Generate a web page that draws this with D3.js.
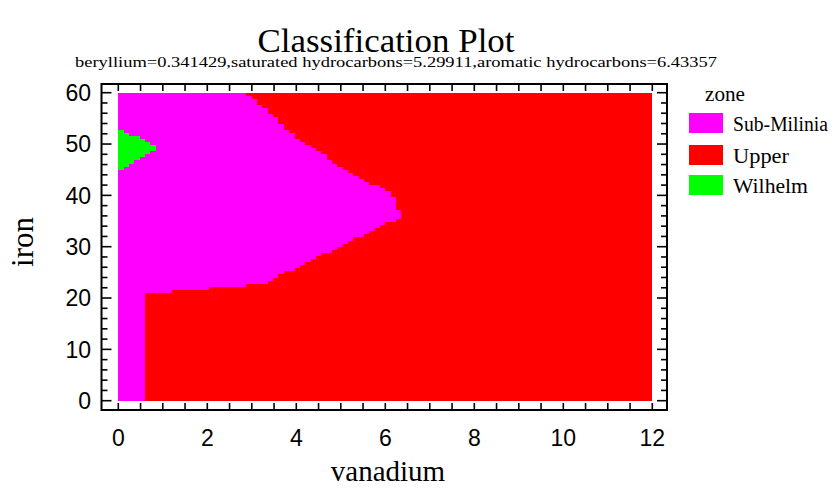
<!DOCTYPE html>
<html><head><meta charset="utf-8">
<script src="https://cdn.jsdelivr.net/npm/d3@7"></script>
<style>body{margin:0;background:#fff;}</style>
</head><body>
<svg id="chart" width="835" height="491"></svg>
<script>
// ---------- data ----------
const titleText = "Classification Plot";
const subtitleText = "beryllium=0.341429,saturated hydrocarbons=5.29911,aromatic hydrocarbons=6.43357";
const xLabelText = "vanadium";
const yLabelText = "iron";
const legendTitle = "zone";
const zones = ["Sub-Milinia", "Upper", "Wilhelm"];
const zoneColors = ["#ff00ff", "#ff0000", "#00ff00"];
const xTickValues = [0, 2, 4, 6, 8, 10, 12];
const yTickValues = [0, 10, 20, 30, 40, 50, 60];
const vanadiumRange = [0, 12];
const ironRange = [0, 60];
// classification grid rows, listed top (iron 60) to bottom (iron 0), each 0.6 iron tall
// vanadium value where Sub-Milinia stops and Upper starts
const subMiliniaEdge = [
  2.88,3.00,3.12,3.12,3.24,3.36,3.36,3.48,3.60,3.60,
  3.72,3.72,3.84,3.96,3.96,4.08,4.20,4.32,4.44,4.56,
  4.68,4.68,4.80,4.92,5.04,5.16,5.28,5.40,5.52,5.64,
  5.88,6.00,6.12,6.12,6.24,6.24,6.24,6.24,6.36,6.36,
  6.36,6.24,6.00,5.88,5.76,5.64,5.52,5.28,5.16,5.04,
  4.92,4.80,4.56,4.44,4.32,4.20,4.08,3.96,3.72,3.60,
  3.48,3.36,2.88,2.04,1.20,0.60,0.60,0.60,0.60,0.60,
  0.60,0.60,0.60,0.60,0.60,0.60,0.60,0.60,0.60,0.60,
  0.60,0.60,0.60,0.60,0.60,0.60,0.60,0.60,0.60,0.60,
  0.60,0.60,0.60,0.60,0.60,0.60,0.60,0.60,0.60,0.60
];
// Wilhelm patch: first row index (from top) and vanadium where it stops
const wilhelmFirstRow = 12;
const wilhelmEdge = [0.12,0.24,0.48,0.60,0.72,0.84,0.84,0.72,0.60,0.48,0.36,0.24,0.12];

// ---------- layout ----------
const svg = d3.select("#chart");
const frame = {left: 101.5, right: 667, top: 84, bottom: 410};
const x = d3.scaleLinear().domain(vanadiumRange).range([118.3, 652.3]);
const y = d3.scaleLinear().domain(ironRange).range([400.7, 92.7]);
const serif = "'Liberation Serif','Times New Roman',serif";
const sans = "'Liberation Sans',Arial,sans-serif";

const nRows = subMiliniaEdge.length;
const rowH = (ironRange[1] - ironRange[0]) / nRows;
const rows = subMiliniaEdge.map((e, k) => ({
  top: ironRange[1] - k * rowH, bottom: ironRange[1] - (k + 1) * rowH, edge: e
}));
const gCells = svg.append("g").attr("shape-rendering", "crispEdges");
function rowRect(sel, x0, x1, r, color) {
  const y0 = Math.round(y(r.top)), y1 = Math.round(y(r.bottom));
  sel.append("rect").attr("x", Math.round(x(x0))).attr("y", y0)
    .attr("width", Math.round(x(x1)) - Math.round(x(x0))).attr("height", y1 - y0)
    .attr("fill", color);
}
rows.forEach(r => {
  rowRect(gCells, vanadiumRange[0], r.edge, r, zoneColors[0]);
  rowRect(gCells, r.edge, vanadiumRange[1], r, zoneColors[1]);
});
wilhelmEdge.forEach((e, i) => {
  rowRect(gCells, vanadiumRange[0], e, rows[wilhelmFirstRow + i], zoneColors[2]);
});

// frame
svg.append("rect").attr("x", frame.left).attr("y", frame.top)
  .attr("width", frame.right - frame.left).attr("height", frame.bottom - frame.top)
  .attr("fill", "none").attr("stroke", "#000").attr("stroke-width", 2);

// ticks
const gT = svg.append("g").attr("stroke", "#000").attr("stroke-width", 1.6);
d3.range(vanadiumRange[0], vanadiumRange[1] + 0.001, 0.5).forEach(v => {
  const px = x(v);
  gT.append("line").attr("x1", px).attr("x2", px).attr("y1", frame.bottom).attr("y2", frame.bottom - 7);
  gT.append("line").attr("x1", px).attr("x2", px).attr("y1", frame.top).attr("y2", frame.top + 7);
});
d3.range(ironRange[0], ironRange[1] + 0.001, 2).forEach(v => {
  const py = y(v);
  const len = (v % 10 === 0) ? 10 : 6;
  gT.append("line").attr("x1", frame.left).attr("x2", frame.left + len).attr("y1", py).attr("y2", py);
  gT.append("line").attr("x1", frame.right).attr("x2", frame.right - len).attr("y1", py).attr("y2", py);
});

// tick labels
svg.append("g").selectAll("text").data(xTickValues).join("text")
  .attr("x", d => x(d)).attr("y", 446).attr("text-anchor", "middle")
  .attr("font-family", sans).attr("font-size", 23).text(d => d);
svg.append("g").selectAll("text").data(yTickValues).join("text")
  .attr("x", 91).attr("y", d => y(d)).attr("dy", "0.36em").attr("text-anchor", "end")
  .attr("font-family", sans).attr("font-size", 23).text(d => d);

// titles
svg.append("text").attr("x", 386).attr("y", 52).attr("text-anchor", "middle")
  .attr("font-family", serif).attr("font-size", 33)
  .attr("textLength", 257).attr("lengthAdjust", "spacingAndGlyphs").text(titleText);
svg.append("text").attr("x", 396).attr("y", 67).attr("text-anchor", "middle")
  .attr("font-family", serif).attr("font-size", 15)
  .attr("textLength", 642).attr("lengthAdjust", "spacingAndGlyphs").text(subtitleText);
svg.append("text").attr("x", 388).attr("y", 481).attr("text-anchor", "middle")
  .attr("font-family", serif).attr("font-size", 29).text(xLabelText);
svg.append("text").attr("transform", "translate(33,242) rotate(-90)").attr("text-anchor", "middle")
  .attr("font-family", serif).attr("font-size", 31).text(yLabelText);

// legend
svg.append("text").attr("x", 705).attr("y", 101).attr("font-family", serif).attr("font-size", 21)
  .attr("textLength", 40).attr("lengthAdjust", "spacingAndGlyphs").text(legendTitle);
const legY = [113, 145, 175];
const legW = [95, 56, 75];
const lg = svg.append("g").selectAll("g").data(zones).join("g");
lg.append("rect").attr("x", 689).attr("y", (d, i) => legY[i]).attr("width", 34).attr("height", 20)
  .attr("fill", (d, i) => zoneColors[i]);
lg.append("text").attr("x", 733).attr("y", (d, i) => legY[i] + 18)
  .attr("font-family", serif).attr("font-size", 20.5)
  .attr("textLength", (d, i) => legW[i]).attr("lengthAdjust", "spacingAndGlyphs").text(d => d);
</script>
</body></html>
